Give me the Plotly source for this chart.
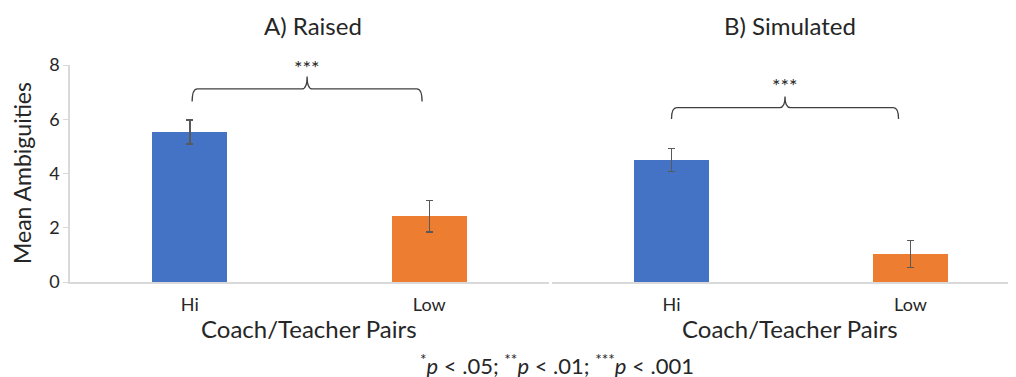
import plotly.graph_objects as go

categories = ["Hi", "Low"]
panel_titles = ["A) Raised", "B) Simulated"]
raised_means = [5.53, 2.43]
raised_err = [0.45, 0.58]
simulated_means = [4.50, 1.03]
simulated_err = [0.43, 0.50]
bar_colors = ["#4472C4", "#ED7D31"]
y_ticks = [0, 2, 4, 6, 8]
sig_label = "***"
# brace levels (data units): end, middle line, tip, stars
raised_brace = [6.65, 7.12, 7.58, 7.94]
simulated_brace = [6.01, 6.43, 6.84, 7.27]
footnote = "<sup>*</sup><i>p</i> < .05; <sup>**</sup><i>p</i> < .01; <sup>***</sup><i>p</i> < .001"

FONT = "Lato, 'Open Sans', sans-serif"
W, H = 1016, 377
OFF = 8  # page body margin
xpos = list(range(len(categories)))


def px(x):
    return (x - OFF) / W


def py(y):
    return 1 - (y - OFF) / H


fig = go.Figure()
for i, (means, errs) in enumerate([(raised_means, raised_err), (simulated_means, simulated_err)]):
    fig.add_trace(go.Bar(
        x=xpos, y=means, width=0.313,
        marker=dict(color=bar_colors, line=dict(width=0)),
        error_y=dict(type="data", array=errs, visible=True, color="#595959", thickness=1.5, width=3.5),
        xaxis="x" if i == 0 else "x2", yaxis="y" if i == 0 else "y2",
        showlegend=False, hoverinfo="skip",
    ))

ydom = [py(282), py(65)]
axis_line = "#d9d9d9"
fig.update_layout(
    template="none",
    width=W, height=H, margin=dict(l=0, r=0, t=0, b=0, pad=0, autoexpand=False),
    paper_bgcolor="white", plot_bgcolor="white",
    font=dict(family=FONT, color="#262626"),
    bargap=0,
    xaxis=dict(domain=[px(70), px(549)], range=[-0.5, 1.5], tickvals=xpos, ticktext=categories,
               showline=True, linecolor=axis_line, linewidth=1.5, showgrid=False, zeroline=False,
               ticks="", tickfont=dict(size=18), ticklabelstandoff=6, automargin=False, fixedrange=True),
    yaxis=dict(domain=ydom, range=[0, 8], tickvals=y_ticks, showline=True, linecolor=axis_line,
               linewidth=1.5, ticks="outside", ticklen=5, tickcolor=axis_line, showgrid=False,
               zeroline=False, tickfont=dict(size=18), automargin=False, fixedrange=True),
    xaxis2=dict(domain=[px(552), 1.0], range=[-0.5, (W + OFF - 552) / 239 - 0.5], tickvals=xpos,
                ticktext=categories, showline=True, linecolor=axis_line, linewidth=1.5, showgrid=False,
                zeroline=False, ticks="", tickfont=dict(size=18), ticklabelstandoff=6, anchor="y2",
                automargin=False, fixedrange=True),
    yaxis2=dict(domain=ydom, range=[0, 8], showline=False, showticklabels=False, showgrid=False,
                zeroline=False, anchor="x2", automargin=False, fixedrange=True),
)


def brace_path(x0, x1, lv, dx=0.022):
    ye, ym, yt = lv[0], lv[1], lv[2]
    xc = (x0 + x1) / 2
    return (f"M {x0},{ye} Q {x0},{ym} {x0+dx},{ym} L {xc-dx},{ym} Q {xc},{ym} {xc},{yt} "
            f"Q {xc},{ym} {xc+dx},{ym} L {x1-dx},{ym} Q {x1},{ym} {x1},{ye}")


shapes = [
    dict(type="path", path=brace_path(0.01, 0.97, raised_brace), xref="x", yref="y",
         line=dict(color="#404040", width=1.3)),
    dict(type="path", path=brace_path(0.0, 0.95, simulated_brace), xref="x2", yref="y2",
         line=dict(color="#404040", width=1.3)),
]
fig.update_layout(shapes=shapes)

ann = [
    dict(text=sig_label, x=0.49, y=raised_brace[3], xref="x", yref="y", showarrow=False,
         font=dict(size=20, color="#262626"), yanchor="middle"),
    dict(text=sig_label, x=0.475, y=simulated_brace[3], xref="x2", yref="y2", showarrow=False,
         font=dict(size=20, color="#262626"), yanchor="middle"),
    dict(text=panel_titles[0], x=px(313), y=py(25), xref="paper", yref="paper", showarrow=False,
         font=dict(size=24), xanchor="center", yanchor="middle"),
    dict(text=panel_titles[1], x=px(790), y=py(25), xref="paper", yref="paper", showarrow=False,
         font=dict(size=24), xanchor="center", yanchor="middle"),
    dict(text="Coach/Teacher Pairs", x=px(309), y=py(328), xref="paper", yref="paper", showarrow=False,
         font=dict(size=24), xanchor="center", yanchor="middle"),
    dict(text="Coach/Teacher Pairs", x=px(790), y=py(328), xref="paper", yref="paper", showarrow=False,
         font=dict(size=24), xanchor="center", yanchor="middle"),
    dict(text="Mean Ambiguities", x=px(22), y=py(173), xref="paper", yref="paper", showarrow=False,
         font=dict(size=23), textangle=-90, xanchor="center", yanchor="middle"),
    dict(text=footnote, x=px(557), y=py(364), xref="paper", yref="paper", showarrow=False,
         font=dict(size=22), xanchor="center", yanchor="middle"),
]
fig.update_layout(annotations=ann)

fig.write_html("out.html", config={"displayModeBar": False})
